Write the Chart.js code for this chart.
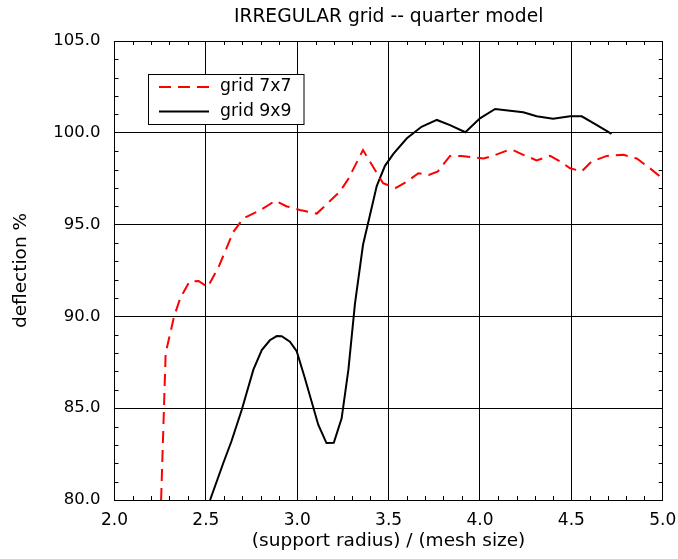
<!DOCTYPE html>
<html>
<head>
<meta charset="utf-8">
<script src="https://cdn.jsdelivr.net/npm/chart.js@4.4.1/dist/chart.umd.min.js"></script>
<style>
  html, body { margin: 0; padding: 0; background: #fff; }
</style>
</head>
<body>
<canvas id="deflChart" width="678" height="559"></canvas>
<script>
    // tick labels
    const xTicks = [2.0, 2.5, 3.0, 3.5, 4.0, 4.5, 5.0];
    const yTicks = [80, 85, 90, 95, 100, 105];

    // grid 7x7 (red dashed)
    const grid7x = [2.255, 2.28, 2.326, 2.36, 2.41, 2.46, 2.51, 2.57, 2.65, 2.705, 2.80, 2.88, 2.94, 3.015, 3.107,
        3.234, 3.28, 3.36, 3.47, 3.54, 3.60, 3.663, 3.72, 3.77, 3.836, 3.90, 4.02, 4.07, 4.147, 4.18, 4.237,
        4.31, 4.384, 4.44, 4.493, 4.557, 4.61, 4.694, 4.785, 4.858, 4.93, 5.0];
    const grid7y = [80.0, 88.0, 90.0, 91.0, 91.9, 91.93, 91.6, 92.7, 94.6, 95.34, 95.8, 96.3, 96.0, 95.8, 95.6,
        96.8, 97.5, 99.06, 97.25, 97.0, 97.34, 97.8, 97.7, 97.9, 98.74, 98.74, 98.6, 98.74, 99.03, 99.06, 98.8,
        98.5, 98.74, 98.43, 98.07, 97.9, 98.43, 98.74, 98.8, 98.6, 98.07, 97.5];

    // grid 9x9 (black solid)
    const grid9x = [2.523, 2.595, 2.64, 2.696, 2.76, 2.806, 2.85, 2.888, 2.915, 2.96, 2.997, 3.04, 3.115, 3.16,
        3.20, 3.243, 3.28, 3.316, 3.36, 3.40, 3.435, 3.48, 3.526, 3.60, 3.68, 3.764, 3.836, 3.92, 4.0, 4.083,
        4.165, 4.237, 4.31, 4.40, 4.493, 4.557, 4.64, 4.72];
    const grid9y = [80.0, 82.0, 83.2, 84.9, 87.1, 88.17, 88.7, 88.93, 88.92, 88.62, 88.1, 86.7, 84.1, 83.1,
        83.12, 84.45, 87.1, 90.7, 93.9, 95.6, 97.1, 98.2, 98.85, 99.7, 100.33, 100.7, 100.42, 100.03, 100.79, 101.3,
        101.2, 101.12, 100.9, 100.77, 100.9, 100.9, 100.42, 99.94];

    const FONT = 'DejaVu Sans';
    const toPoints = (xs, ys) => xs.map((x, i) => ({ x: x, y: ys[i] }));

    // minor ticks pointing inward on all four sides
    const minorTicks = {
        id: 'minorTicks',
        beforeDatasetsDraw(chart) {
            const { ctx, chartArea: a, scales: { x, y } } = chart;
            ctx.save();
            ctx.strokeStyle = '#000';
            ctx.lineWidth = 1;
            ctx.beginPath();
            for (let i = 1; i < 30; i++) {
                if (i % 5 === 0) continue;
                const px = Math.round(x.getPixelForValue(2 + i * 0.1)) + 0.5;
                ctx.moveTo(px, a.top); ctx.lineTo(px, a.top + 4);
                ctx.moveTo(px, a.bottom); ctx.lineTo(px, a.bottom - 4);
            }
            for (let v = 81; v < 105; v++) {
                if (v % 5 === 0) continue;
                const py = Math.round(y.getPixelForValue(v)) + 0.5;
                ctx.moveTo(a.left, py); ctx.lineTo(a.left + 4, py);
                ctx.moveTo(a.right, py); ctx.lineTo(a.right - 4, py);
            }
            ctx.stroke();
            ctx.restore();
        }
    };

    // title and boxed legend inside the plot
    const decorations = {
        id: 'decorations',
        afterDraw(chart) {
            const { ctx, chartArea: a } = chart;
            ctx.save();
            ctx.fillStyle = '#000';
            ctx.textAlign = 'center';
            ctx.textBaseline = 'middle';
            ctx.font = '18.7px "' + FONT + '"';
            ctx.fillText('IRREGULAR grid -- quarter model', (a.left + a.right) / 2, 17);

            // legend box
            ctx.fillStyle = '#fff';
            ctx.fillRect(148.5, 74.5, 155.5, 50);
            ctx.strokeStyle = '#000';
            ctx.lineWidth = 1;
            ctx.strokeRect(148.5, 74.5, 155.5, 50);

            const rows = [87, 111.5];
            chart.data.datasets.forEach((ds, i) => {
                ctx.beginPath();
                ctx.strokeStyle = ds.borderColor;
                ctx.lineWidth = ds.borderWidth;
                ctx.setLineDash(ds.borderDash || []);
                ctx.moveTo(159, rows[i]);
                ctx.lineTo(209, rows[i]);
                ctx.stroke();
                ctx.setLineDash([]);
                ctx.fillStyle = '#000';
                ctx.textAlign = 'left';
                ctx.font = '17.3px "' + FONT + '"';
                ctx.fillText(ds.label, 220, rows[i]);
            });
            ctx.restore();
        }
    };

    const chart = new Chart(document.getElementById('deflChart').getContext('2d'), {
        type: 'scatter',
        data: {
            datasets: [{
                label: 'grid 7x7',
                data: toPoints(grid7x, grid7y),
                showLine: true,
                borderColor: '#ff0000',
                borderWidth: 2,
                borderDash: [12, 7],
                pointRadius: 0,
                tension: 0
            }, {
                label: 'grid 9x9',
                data: toPoints(grid9x, grid9y),
                showLine: true,
                borderColor: '#000000',
                borderWidth: 2,
                pointRadius: 0,
                tension: 0
            }]
        },
        options: {
            responsive: false,
            animation: false,
            devicePixelRatio: 1,
            layout: { padding: { top: 41, right: 15.3, left: 0, bottom: 0 } },
            plugins: {
                legend: { display: false },
                title: { display: false },
                tooltip: { enabled: false }
            },
            scales: {
                x: {
                    type: 'linear',
                    min: 2,
                    max: 5,
                    afterBuildTicks: s => { s.ticks = xTicks.map(v => ({ value: v })); },
                    afterFit: s => { s.height = 59; s.paddingLeft = 0; s.paddingRight = 0; },
                    ticks: {
                        color: '#000',
                        font: { family: FONT, size: 17 },
                        padding: 10,
                        maxRotation: 0,
                        callback: v => Number(v).toFixed(1)
                    },
                    grid: { color: '#000', lineWidth: 1, drawTicks: false },
                    border: { color: '#000', width: 1 },
                    title: {
                        display: true,
                        text: '(support radius) / (mesh size)',
                        color: '#000',
                        font: { family: FONT, size: 18.5 },
                        padding: { top: 0, bottom: 7 }
                    }
                },
                y: {
                    type: 'linear',
                    min: 80,
                    max: 105,
                    afterBuildTicks: s => { s.ticks = yTicks.map(v => ({ value: v })); },
                    afterFit: s => { s.width = 114.5; s.paddingTop = 0; s.paddingBottom = 0; },
                    ticks: {
                        color: '#000',
                        font: { family: FONT, size: 16.5 },
                        padding: 14,
                        callback: v => Number(v).toFixed(1)
                    },
                    grid: { color: '#000', lineWidth: 1, drawTicks: false },
                    border: { color: '#000', width: 1 },
                    title: {
                        display: true,
                        text: 'deflection %',
                        color: '#000',
                        font: { family: FONT, size: 18.5 },
                        padding: { top: 10, bottom: 0 }
                    }
                }
            }
        },
        plugins: [minorTicks, decorations]
    });
</script>
</body>
</html>
